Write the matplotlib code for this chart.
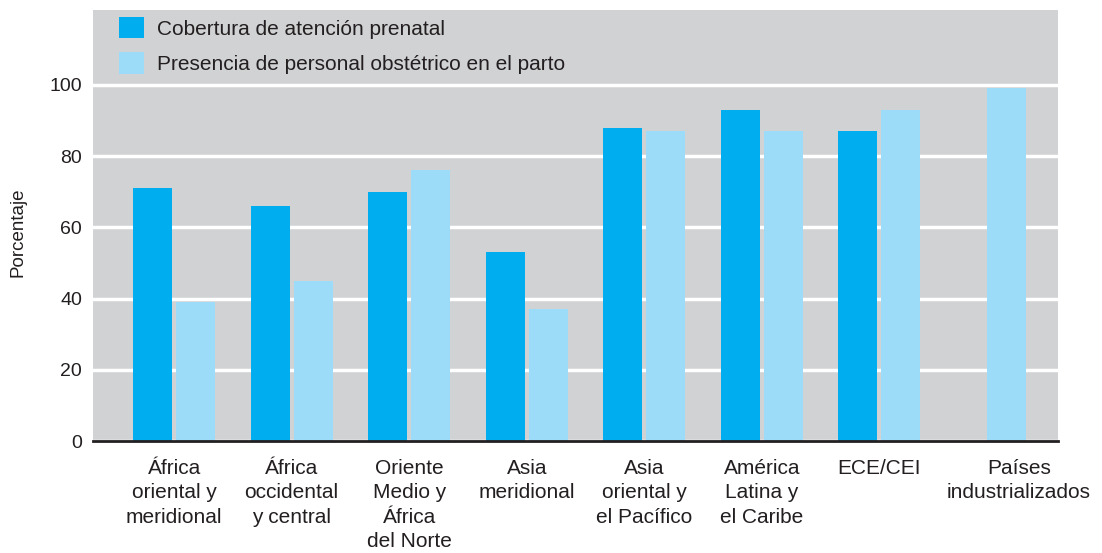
import matplotlib
matplotlib.use("Agg")
import matplotlib.pyplot as plt
import matplotlib.transforms as mtransforms
import numpy as np

categories = ["África\noriental y\nmeridional", "África\noccidental\ny central",
              "Oriente\nMedio y\nÁfrica\ndel Norte", "Asia\nmeridional",
              "Asia\noriental y\nel Pacífico", "América\nLatina y\nel Caribe",
              "ECE/CEI", "Países\nindustrializados"]
prenatal = [71, 66, 70, 53, 88, 93, 87, np.nan]
parto = [39, 45, 76, 37, 87, 87, 93, 99]
yticks = [0, 20, 40, 60, 80, 100]

dark = "#00AEEF"
light = "#9DDCF8"
bg = "#D1D2D4"
txt = "#231F20"

plt.rcParams['font.family'] = ['Liberation Sans', 'DejaVu Sans']

fig = plt.figure(figsize=(11.02, 5.53), dpi=100)
ax = fig.add_axes([93/1102, 1-441/553, (1058-93)/1102, (441-10)/553])
ax.set_facecolor(bg)

x = np.arange(len(categories))
w = 0.33
off = 0.183
pren = np.array(prenatal, dtype=float)
x_light = np.where(np.isnan(pren), x + 0.08, x + off)
ax.bar(x - off, pren, w, color=dark, label="Cobertura de atención prenatal", zorder=3)
ax.bar(x_light, parto, w, color=light, label="Presencia de personal obstétrico en el parto", zorder=3)

ax.set_ylim(0, 121)
ax.set_xlim(-0.69, 7.52)
ax.set_yticks(yticks)
ax.set_yticklabels([str(v) for v in yticks], fontsize=14, color=txt)
ax.yaxis.grid(True, color="white", linewidth=2.5, zorder=1)
ax.set_axisbelow(True)
ax.tick_params(axis='y', length=0, pad=8)
ax.tick_params(axis='x', length=0, pad=13)
ax.set_xticks(x)
ax.set_xticklabels(categories, fontsize=15, color=txt, linespacing=1.36, va='top')

# the last label sits a little to the right in the original
last = ax.get_xticklabels()[-1]
last.set_transform(last.get_transform() +
                   mtransforms.ScaledTranslation(22/100, 0, fig.dpi_scale_trans))

for s in ["top", "right", "left"]:
    ax.spines[s].set_visible(False)
ax.spines["bottom"].set_color(txt)
ax.spines["bottom"].set_linewidth(2)
ax.spines["bottom"].set_zorder(4)

ax.set_ylabel("Porcentaje", fontsize=13.5, color=txt)
ax.yaxis.set_label_coords(-0.0684, 0.485)

leg = ax.legend(loc="upper left", bbox_to_anchor=(0.0269, 0.984), frameon=False,
                fontsize=15, handlelength=1.2, handleheight=1.2, handletextpad=0.62,
                labelspacing=0.66, borderaxespad=0.0, borderpad=0.0)
for t in leg.get_texts():
    t.set_color(txt)

fig.savefig("out.png", dpi=100)
